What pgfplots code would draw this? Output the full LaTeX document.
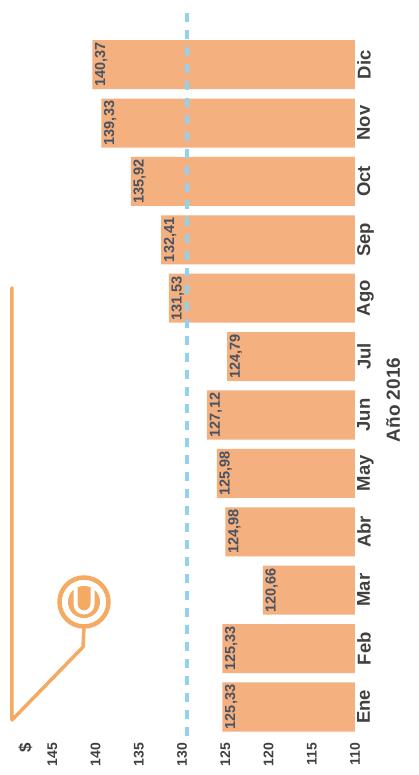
\documentclass[border=0pt]{standalone}
\usepackage{pgfplots}
\usepackage{pgfplotstable}
\pgfplotsset{compat=1.18}
\usepackage{fontspec}
\setmainfont{Liberation Sans}
\definecolor{barorange}{RGB}{244,176,126}
\definecolor{deco}{RGB}{245,170,100}
\definecolor{avgblue}{RGB}{145,210,242}
\definecolor{tickgray}{RGB}{64,64,64}
\definecolor{valgray}{RGB}{72,82,98}
\pgfplotstableread{
idx value label
0 125.33 125,33
1 125.33 125,33
2 120.66 120,66
3 124.98 124,98
4 125.98 125,98
5 127.12 127,12
6 124.79 124,79
7 131.53 131,53
8 132.41 132,41
9 135.92 135,92
10 139.33 139,33
11 140.37 140,37
}\datatable
\begin{document}
\begin{tikzpicture}
\begin{axis}[
  scale only axis, width=320pt, height=732pt,
  x dir=reverse,
  xmin=110, xmax=147,
  ymin=-0.565, ymax=11.97,
  xtick={110,115,...,145},
  ytick={0,...,11},
  yticklabels={Ene,Feb,Mar,Abr,May,Jun,Jul,Ago,Sep,Oct,Nov,Dic},
  yticklabel pos=right,
  axis line style={draw=none},
  major tick length=0pt,
  /pgf/number format/assume math mode=true,
  xticklabel style={rotate=90, anchor=east, inner sep=3pt, font=\fontsize{14}{16}\selectfont\bfseries, text=tickgray},
  yticklabel style={rotate=90, anchor=north, inner sep=2pt, font=\fontsize{18.5}{20}\selectfont\bfseries, text=tickgray},
  bar width=0.84,
]
\addplot[xbar, fill=barorange, draw=none,
  nodes near coords, point meta=explicit symbolic,
  nodes near coords style={rotate=90, anchor=north, inner sep=2.5pt, font=\fontsize{14.5}{17}\selectfont\bfseries, text=valgray}]
  table[x=value, y=idx, meta=label] {\datatable};
\addplot[sharp plot, draw=avgblue, line width=4pt, dash pattern=on 9pt off 8pt, forget plot]
  coordinates {(129.48,-0.5) (129.48,11.97)};
\coordinate (dollarpos) at (axis cs:148.1,-0.565);
\end{axis}
\node[rotate=90, anchor=east, inner sep=3pt, font=\fontsize{17}{19}\selectfont\bfseries, text=tickgray] at (dollarpos) {\$};
\node[rotate=90, anchor=north, inner sep=0pt, font=\fontsize{19}{21}\selectfont\bfseries, text=tickgray]
  at ([shift={(351pt,340pt)}]current axis.south west) {Año 2016};
\begin{scope}[shift={(current axis.south west)}]
  \draw[deco, line width=3.5pt, line join=round, line cap=round] (-23pt,452pt) -- (-23pt,20pt) -- (48pt,93pt) -- (49pt,112pt);
  \draw[deco, line width=4.5pt] (49pt,138pt) circle (24.5pt);
  \fill[deco] (49pt,138pt) circle (16pt);
  \draw[white, line width=4pt] (40.5pt,152pt) -- (40.5pt,136pt) arc (180:360:8.5pt) -- (57.5pt,152pt);
\end{scope}
\path ([shift={(-35pt,-35pt)}]current axis.south west) rectangle ([shift={(64pt,8pt)}]current axis.north east);
\end{tikzpicture}
\end{document}
